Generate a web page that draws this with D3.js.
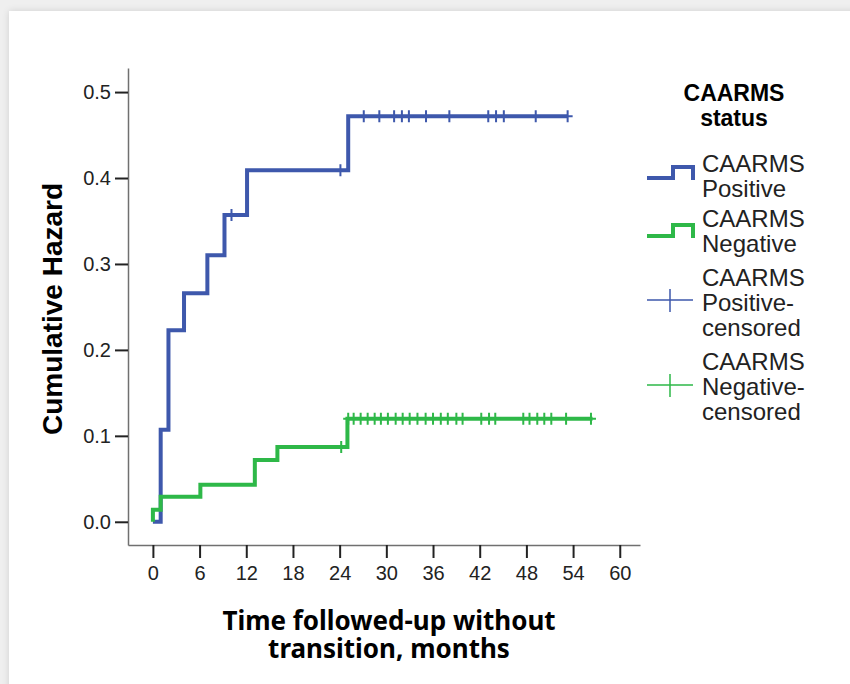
<!DOCTYPE html>
<html>
<head>
<meta charset="utf-8">
<script src="https://cdn.jsdelivr.net/npm/d3@7"></script>
<style>
  body { margin:0; background:#efefef; width:850px; height:684px; overflow:hidden; position:relative; }
  .card { position:absolute; left:9px; top:11px; width:900px; height:700px; background:#fff; box-shadow:0 0 7px rgba(0,0,0,0.13); }
  #chart { position:absolute; left:0; top:0; }
  .tick text { font-family:"Liberation Sans", Arial, sans-serif; font-size:20px; fill:#222; }
</style>
</head>
<body>
<div class="card"></div>
<div id="chart"></div>
<script>
// ticks
var xTicks = [0, 6, 12, 18, 24, 30, 36, 42, 48, 54, 60];
var yTicks = [0, 0.1, 0.2, 0.3, 0.4, 0.5];

// CAARMS positive: event times (months) and cumulative hazard after each
var posEventTimes = [1, 2, 4, 7, 9.2, 12.1, 25.1];
var posHazard = [0.107, 0.223, 0.266, 0.310, 0.357, 0.409, 0.472];
var posEnd = 53.3;
var posCensored = [10.1, 24.1, 27.1, 29.1, 31.0, 32.0, 32.9, 35.1, 38.1, 43.1, 44.1, 45.1, 49.2, 53.3];

// CAARMS negative
var negEventTimes = [0, 1, 6.1, 13.1, 16, 25.0];
var negHazard = [0.014, 0.029, 0.043, 0.072, 0.087, 0.120];
var negEnd = 56.5;
var negCensored = [24.2, 25.1, 25.8, 26.7, 27.6, 28.5, 29.3, 30.2, 31.2, 32.1, 33.0, 34.0, 35.05, 36.0,
                   37.0, 37.9, 39.0, 39.8, 42.2, 43.2, 44.0, 47.6, 48.4, 49.4, 50.3, 51.2, 53.1, 56.3];

var blue = "#3E58AC", green = "#2EB848";

var svg = d3.select("#chart").append("svg")
  .attr("width", 850)
  .attr("height", 684);

var x = d3.scaleLinear().domain([-3.2, 62.6]).range([128, 640]);
var y = d3.scaleLinear().domain([-0.027, 0.528]).range([545, 68]);

// axes
svg.append("g")
  .attr("transform", "translate(0,545)")
  .call(d3.axisBottom(x).tickValues(xTicks).tickSize(13).tickSizeOuter(0).tickPadding(8));
svg.append("g")
  .attr("transform", "translate(128,0)")
  .call(d3.axisLeft(y).tickValues(yTicks).tickFormat(d3.format(".1f")).tickSize(13).tickSizeOuter(0).tickPadding(4));
svg.selectAll(".domain").attr("stroke", "#707070").attr("stroke-width", 1.5);
svg.selectAll(".tick line").attr("stroke", "#222").attr("stroke-width", 2);
svg.selectAll(".tick text").attr("fill", "#222");

function hazAt(times, haz, t) { // step value at time t
  var h = 0;
  for (i = 0; i < times.length; i++) {
    if (times[i] <= t) h = haz[i];
  }
  return h;
}

function stepPoints(times, haz, end) {
  var pts = [[0, 0]];
  var prev = 0;
  for (i = 0; i < times.length; i++) {
    pts.push([times[i], prev]);
    pts.push([times[i], haz[i]]);
    prev = haz[i];
  }
  pts.push([end, prev]);
  return pts;
}

var line = d3.line().x(function(d){ return x(d[0]); }).y(function(d){ return y(d[1]); });

function drawGroup(times, haz, end, censored, color) {
  svg.append("path")
    .attr("d", line(stepPoints(times, haz, end)))
    .attr("fill", "none")
    .attr("stroke", color)
    .attr("stroke-width", 4)
    .attr("stroke-linejoin", "miter");

  // censored marks "+"
  censored.forEach(function(t) {
    var cx = x(t), cy = y(hazAt(times, haz, t));
    svg.append("path")
      .attr("d", "M" + cx + "," + (cy - 6) + "V" + (cy + 6) + "M" + (cx - 5) + "," + cy + "H" + (cx + 5))
      .attr("stroke", color)
      .attr("stroke-width", 2)
      .attr("fill", "none");
  });
}

drawGroup(posEventTimes, posHazard, posEnd, posCensored, blue);
drawGroup(negEventTimes, negHazard, negEnd, negCensored, green);

// axis titles
svg.append("text")
  .attr("transform", "translate(62,309) rotate(-90)")
  .attr("text-anchor", "middle")
  .style("font-family", "'Liberation Sans', Arial, sans-serif")
  .style("font-weight", "bold")
  .style("font-size", "28px")
  .text("Cumulative Hazard");

var xTitle = svg.append("text")
  .attr("text-anchor", "middle")
  .style("font-family", "'Noto Sans', sans-serif")
  .style("font-weight", "bold")
  .style("font-size", "26px");
xTitle.append("tspan").attr("x", 389).attr("y", 630).text("Time followed-up without");
xTitle.append("tspan").attr("x", 389).attr("y", 658).text("transition, months");

// legend
var lf = "'Liberation Sans', Arial, sans-serif";
svg.append("text").attr("x", 734).attr("y", 101).attr("text-anchor", "middle")
  .style("font-family", lf).style("font-weight", "bold").style("font-size", "23px").text("CAARMS");
svg.append("text").attr("x", 734).attr("y", 126).attr("text-anchor", "middle")
  .style("font-family", lf).style("font-weight", "bold").style("font-size", "23px").text("status");

var legendItems = [
  { color: blue, kind: "step", iconY: 167, lines: ["CAARMS", "Positive"], baselines: [171.5, 196.5] },
  { color: green, kind: "step", iconY: 225, lines: ["CAARMS", "Negative"], baselines: [226.5, 251.5] },
  { color: blue, kind: "cross", iconY: 300, lines: ["CAARMS", "Positive-", "censored"], baselines: [286, 311, 336] },
  { color: green, kind: "cross", iconY: 385, lines: ["CAARMS", "Negative-", "censored"], baselines: [370, 395, 420] }
];

legendItems.forEach(function(item) {
  if (item.kind == "step") {
    var top = item.iconY;
    svg.append("path")
      .attr("d", "M647," + (top + 11) + "H673V" + top + "H693V" + (top + 13))
      .attr("fill", "none").attr("stroke", item.color).attr("stroke-width", 4);
  } else {
    var cy = item.iconY;
    svg.append("path")
      .attr("d", "M647," + cy + "H693M670," + (cy - 11) + "V" + (cy + 12))
      .attr("fill", "none").attr("stroke", item.color).attr("stroke-width", 1.5);
  }
  for (j = 0; j < item.lines.length; j++) {
    svg.append("text")
      .attr("x", 702).attr("y", item.baselines[j])
      .style("font-family", lf).style("font-size", "24px").style("fill", "#222")
      .text(item.lines[j]);
  }
});
</script>
</body>
</html>
